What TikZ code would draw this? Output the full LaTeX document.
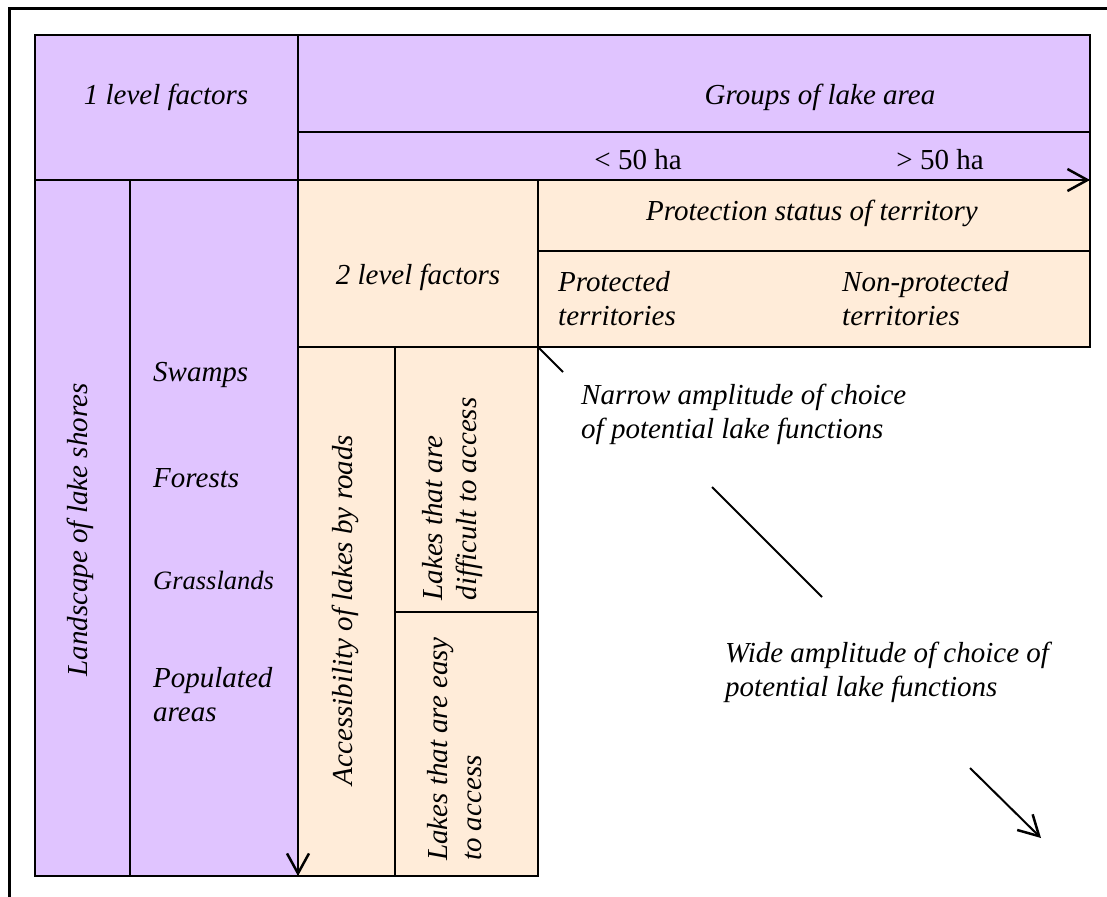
\documentclass[tikz,border=0pt]{standalone}
\usepackage{fontspec}
\setmainfont{Liberation Serif}
\usepackage{tikz}
\usetikzlibrary{arrows.meta}
\usetikzlibrary{positioning}
\definecolor{lilac}{RGB}{224,196,255}
\definecolor{peach}{RGB}{255,236,217}
\tikzstyle{purple_cell} = [
    fill=lilac, 
    draw=black, 
    line width=2pt
]
\tikzstyle{orange_cell} = [
    fill=peach, 
    draw=black, 
    line width=2pt
]
\tikzstyle{label_text} = [
    font=\fontsize{29}{34}\selectfont\itshape, 
    inner sep=0pt, 
    align=left
]
\tikzstyle{size_text} = [
    font=\fontsize{29}{34}\selectfont, 
    inner sep=0pt
]
\tikzstyle{barb} = [
    -{Straight Barb[length=20pt, width=22pt, line width=2.5pt]}, 
    line width=2pt
]

\begin{document}
\begin{tikzpicture}[x=1pt, y=-1pt]
\useasboundingbox (0,0) rectangle (1107,896);
\draw [line width=3pt] (1140,9) -- (9,9) -- (9,930);
% header cells
\draw [purple_cell] (35,35) rectangle (298,180);
\draw [purple_cell] (298,35) rectangle (1090,132);
\draw [purple_cell] (298,132) rectangle (1090,180);
\draw [purple_cell] (35,180) rectangle (130,876);
\draw [purple_cell] (130,180) rectangle (298,876);
% inner cells
\draw [orange_cell] (298,180) rectangle (538,347);
\draw [orange_cell] (538,180) rectangle (1090,251);
\draw [orange_cell] (538,251) rectangle (1090,347);
\draw [orange_cell] (298,347) rectangle (395,876);
\draw [orange_cell] (395,347) rectangle (538,612);
\draw [orange_cell] (395,612) rectangle (538,876);
% axes
\coordinate (x_end) at (1090,180);
\coordinate (y_end) at (298,876);
\coordinate (top_left) at (35,180);
\coordinate (top_mid) at (298,35);
\draw [barb] (top_left) -- (x_end);
\draw [barb] (top_mid) -- (y_end);
% texts
\node [label_text] (level_one) at (166,97) {1 level factors};
\node [label_text] (groups) at (820,97) {Groups of lake area};
\node [size_text] (small_lakes) at (638,160) {< 50 ha};
\node [size_text] (large_lakes) at (940,160) {> 50 ha};
\node [label_text] (status) at (812,213) {Protection status of territory};
\node [label_text] (level_two) at (418,277) {2 level factors};
\node [label_text, anchor=west] (protected) at (558,299) {Protected\\territories};
\node [label_text, anchor=west] (non_protected) at (842,299) {Non-protected\\territories};
\node [label_text, rotate=90] (landscape) at (80,530) {Landscape of lake shores};
\node [label_text, anchor=west] (swamps) at (153,375) {Swamps};
\node [label_text, anchor=west] (forests) at (153,478) {Forests};
\node [label_text, anchor=west, font=\fontsize{26.5}{31}\selectfont\itshape] (grasslands) at (153,580) {Grasslands};
\node [label_text, anchor=west] (populated) at (153,695) {Populated\\areas};
\node [label_text, rotate=90] (access) at (345,610) {Accessibility of lakes by roads};
\node [label_text, rotate=90] (difficult) at (453,499) {Lakes that are\\difficult to access};
\node [label_text, rotate=90] (easy) at (455,749) {Lakes that are easy\\to access};
\node [label_text, anchor=west] (narrow) at (581,414) {Narrow amplitude of choice\\of potential lake functions};
\node [label_text, anchor=west] (wide) at (725,672) {Wide amplitude of choice of\\potential lake functions};
% amplitude direction
\coordinate (corner) at (538,347);
\coordinate (tick_end) at (563,372);
\coordinate (mid_start) at (712,487);
\coordinate (mid_end) at (822,597);
\coordinate (arrow_start) at (970,768);
\coordinate (arrow_end) at (1041,838);
\draw [line width=2pt] (corner) -- (tick_end);
\draw [line width=2pt] (mid_start) -- (mid_end);
\draw [barb] (arrow_start) -- (arrow_end);
\end{tikzpicture}
\end{document}
